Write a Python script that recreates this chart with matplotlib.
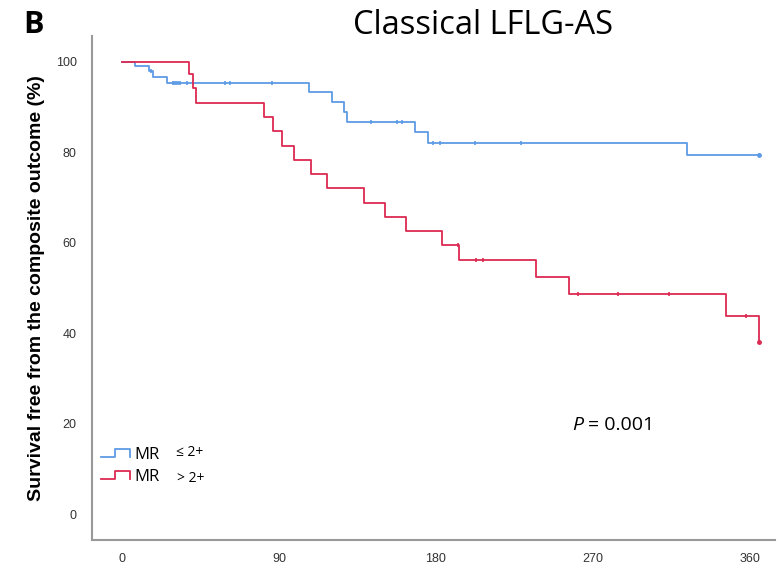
import matplotlib
matplotlib.use("Agg")
import matplotlib.pyplot as plt
from matplotlib.lines import Line2D

# ---- data ----
blue_t = [0, 7.5, 15.7, 17.6, 26, 107, 120.6, 127.5, 128.8, 168, 175.6, 323.8, 365]
blue_v = [100, 99.2, 97.9, 96.6, 95.3, 93.3, 91.2, 89.0, 86.8, 84.6, 82.1, 79.4, 79.4]
blue_cens_t = [16.5, 29, 30, 31, 32, 33, 37, 59, 62, 86, 142.7, 157.5, 160.4, 178.5, 182.3, 202.5, 228.6, 365]

red_t = [0, 38.6, 40.9, 42.4, 81.6, 86.4, 91.9, 98.4, 108.6, 117.5, 138.8, 150.6,
         162.7, 183.5, 193.4, 237.4, 256.5, 346.3, 365.4]
red_v = [100, 97.3, 94.2, 91.0, 87.8, 84.7, 81.5, 78.4, 75.2, 72.1, 68.9, 65.8,
         62.6, 59.5, 56.1, 52.4, 48.6, 43.7, 38.1]
red_cens_t = [192.9, 202.8, 206.8, 261.6, 284.6, 313.6, 357.5, 365.4]

x_ticks = [0, 90, 180, 270, 360]
y_ticks = [0, 20, 40, 60, 80, 100]

BLUE = "#5e9be6"
RED = "#dc2a52"


def step_value(ts, vs, t):
    v = vs[0]
    for ti, vi in zip(ts, vs):
        if ti <= t:
            v = vi
    return v


fig = plt.figure(figsize=(7.82, 5.68), dpi=100)
ax = fig.add_axes([92 / 782, 28 / 568, 683 / 782, 504 / 568])

ax.step(blue_t, blue_v, where="post", color=BLUE, lw=1.3)
ax.step(red_t, red_v, where="post", color=RED, lw=1.3)

ax.plot(blue_cens_t, [step_value(blue_t, blue_v, t) for t in blue_cens_t],
        ls="none", marker="|", ms=3.5, mew=1.2, color=BLUE)
ax.plot(red_cens_t, [step_value(red_t, red_v, t) for t in red_cens_t],
        ls="none", marker="|", ms=3.5, mew=1.2, color=RED)
ax.plot([blue_t[-1]], [blue_v[-1]], ls="none", marker="o", ms=2.5, color=BLUE)
ax.plot([red_t[-1]], [red_v[-1]], ls="none", marker="o", ms=2.5, color=RED)

ax.set_xlim(-17.2, 374.4)
ax.set_ylim(-5.75, 105.75)
ax.set_xticks(x_ticks)
ax.set_yticks(y_ticks)
ax.tick_params(length=0, labelsize=9, colors="#333333")
ax.tick_params(axis="y", pad=11)
ax.tick_params(axis="x", pad=9)
for lab in ax.get_xticklabels() + ax.get_yticklabels():
    lab.set_family("Liberation Sans")
for s in ["top", "right"]:
    ax.spines[s].set_visible(False)
for s in ["left", "bottom"]:
    ax.spines[s].set_color("#999999")
    ax.spines[s].set_linewidth(1.5)

ax.set_ylabel("Survival free from the composite outcome (%)", fontsize=14,
              fontweight="bold", family="Liberation Sans")
ax.yaxis.set_label_coords(-0.069, 0.5)

fig.text(483 / 782, 1 - 26 / 568, "Classical LFLG-AS", ha="center", va="center",
         fontsize=23.5, family="Open Sans")
fig.text(33 / 782, 1 - 25 / 568, "B", ha="center", va="center",
         fontsize=22, fontweight="bold", family="Open Sans")
fig.text(572 / 782, 1 - 425 / 568, "P", ha="left", va="center",
         fontsize=14, family="Open Sans", style="italic")
fig.text(588 / 782, 1 - 425 / 568, "= 0.001", ha="left", va="center",
         fontsize=14, family="Open Sans")

# legend (manual, SPSS style step icons)
def icon(y_low, y_high, color):
    xs = [100.7, 115, 115, 130, 130]
    ys = [y_low, y_low, y_high, y_high, y_low]
    fig.add_artist(Line2D([x / 782 for x in xs], [1 - y / 568 for y in ys],
                          transform=fig.transFigure, color=color, lw=1.3))

icon(456.7, 449.3, BLUE)
icon(479.3, 470.7, RED)
fig.text(134 / 782, 1 - 455 / 568, "MR", ha="left", va="center", fontsize=12,
         family="Open Sans")
fig.text(176 / 782, 1 - 453 / 568, "\u2264 2+", ha="left", va="center", fontsize=10,
         family="Open Sans")
fig.text(134 / 782, 1 - 477 / 568, "MR", ha="left", va="center", fontsize=12,
         family="Open Sans")
fig.text(177 / 782, 1 - 478 / 568, "> 2+", ha="left", va="center", fontsize=10,
         family="Open Sans")

fig.savefig("out.png", dpi=100)
